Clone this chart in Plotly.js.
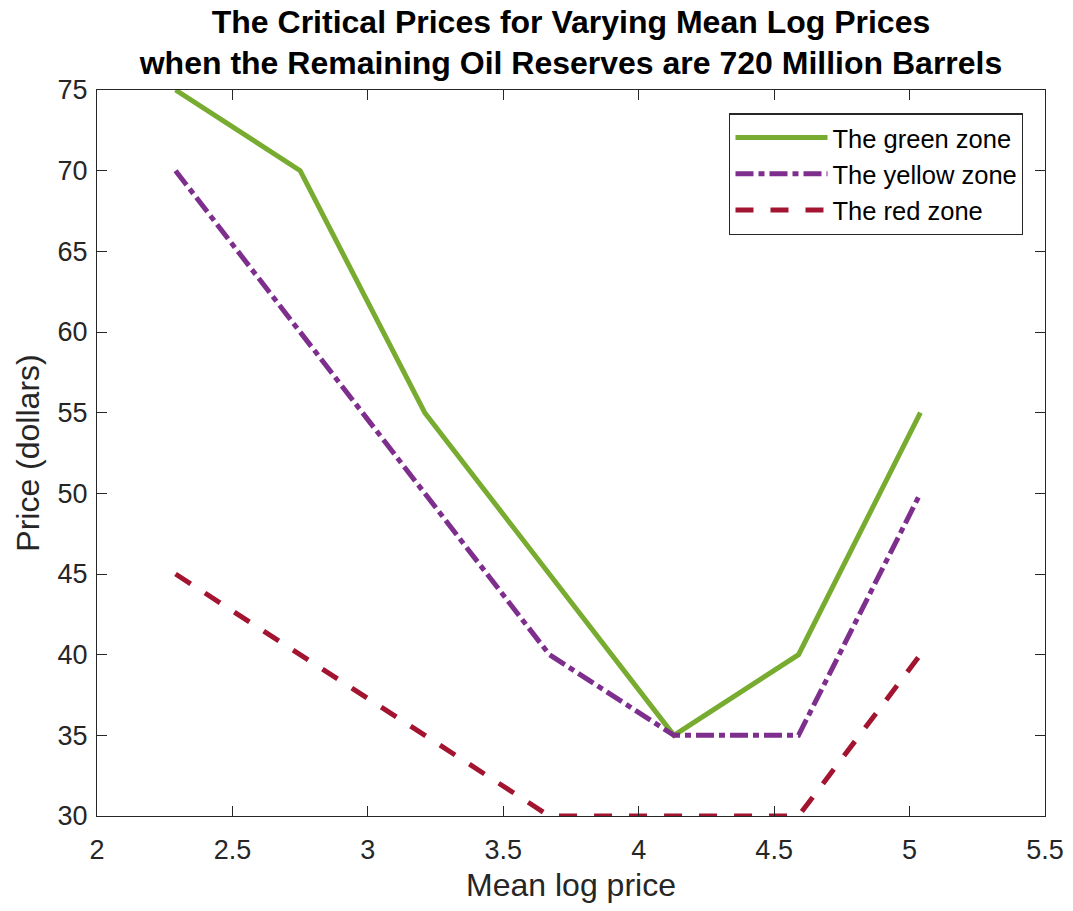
<!DOCTYPE html>
<html>
<head>
<meta charset="utf-8">
<script src="https://cdn.plot.ly/plotly-3.0.1.min.js"></script>
<style>body{margin:0;padding:0;background:#fff;} #chart{width:1073px;height:911px;}</style>
</head>
<body>
<div id="chart"></div>
<script>
const meanLogPrice = [2.29, 2.75, 3.21, 3.67, 4.13, 4.59, 5.04];
const greenZone = [75, 70, 55, 45, 35, 40, 55];
const yellowZone = [70, 60, 50, 40, 35, 35, 50];
const redZone = [45, 40, 35, 30, 30, 30, 40];
const seriesNames = ['The green zone', 'The yellow zone', 'The red zone'];
const xTicks = [2, 2.5, 3, 3.5, 4, 4.5, 5, 5.5];
const yTicks = [30, 35, 40, 45, 50, 55, 60, 65, 70, 75];

const FONT = 'Liberation Sans, Arial, sans-serif';

const traces = [
  {x: meanLogPrice, y: greenZone, name: seriesNames[0], mode: 'lines',
   line: {color: '#77AC30', width: 5, dash: 'solid'}},
  {x: meanLogPrice, y: yellowZone, name: seriesNames[1], mode: 'lines',
   line: {color: '#7E2F8E', width: 5, dash: '18px,5px,6px,5px'}},
  {x: meanLogPrice, y: redZone, name: seriesNames[2], mode: 'lines',
   line: {color: '#A2142F', width: 5, dash: '18px,17px'}}
];

const axisCommon = {
  showgrid: false, zeroline: false, showline: true, mirror: 'ticks',
  linecolor: '#262626', linewidth: 1.3, ticks: 'inside', ticklen: 10,
  tickcolor: '#262626', tickwidth: 1.3,
  tickfont: {family: FONT, size: 27, color: '#262626'}
};

const layout = {
  width: 1073, height: 911,
  paper_bgcolor: '#fff', plot_bgcolor: '#fff',
  margin: {l: 97, r: 28, t: 90, b: 95},
  title: {
    text: '<b>The Critical Prices for Varying Mean Log Prices<br>when the Remaining Oil Reserves are 720 Million Barrels</b>',
    font: {family: FONT, size: 32, color: '#000'},
    xref: 'paper', x: 0.5, xanchor: 'center', yref: 'container', y: 0.964, yanchor: 'top'
  },
  xaxis: Object.assign({}, axisCommon, {
    range: [2, 5.5], tickvals: xTicks, ticktext: xTicks.map(String),
    ticklabelstandoff: 9,
    title: {text: 'Mean log price', font: {family: FONT, size: 32, color: '#262626'}, standoff: 10}
  }),
  yaxis: Object.assign({}, axisCommon, {
    range: [30, 75], tickvals: yTicks, ticktext: yTicks.map(String),
    ticklabelstandoff: 3,
    title: {text: 'Price (dollars)', font: {family: FONT, size: 32, color: '#262626'}, standoff: 8}
  }),
  legend: {
    x: 0.977, xanchor: 'right', y: 0.968, yanchor: 'top',
    bgcolor: '#fff', bordercolor: '#262626', borderwidth: 1.3,
    font: {family: FONT, size: 25.5, color: '#000'},
    itemwidth: 92
  },
  showlegend: true
};

Plotly.newPlot('chart', traces, layout, {displayModeBar: false});
</script>
</body>
</html>
